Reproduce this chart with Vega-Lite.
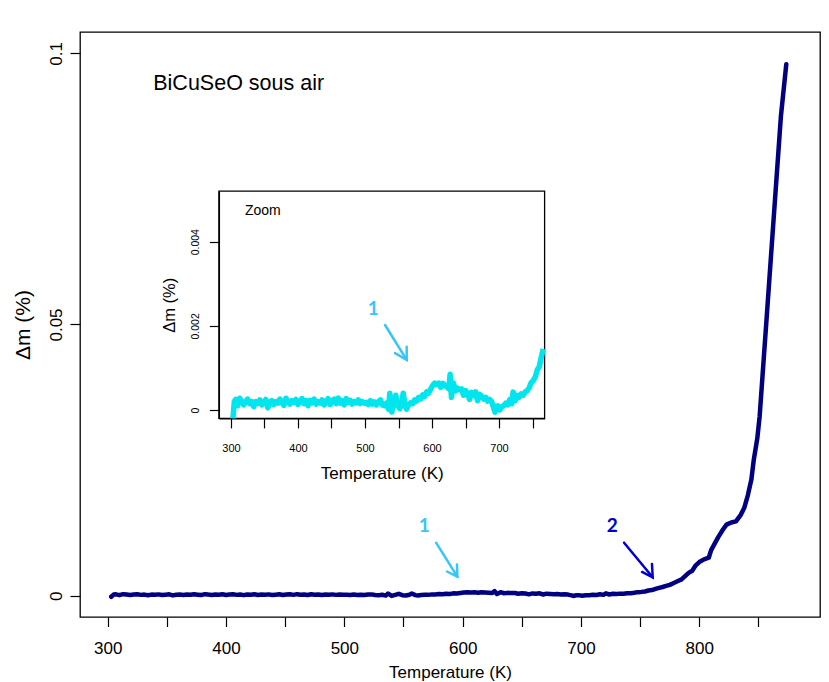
{
  "$schema": "https://vega.github.io/schema/vega-lite/v6.json",
  "width": 740,
  "height": 585,
  "autosize": {"type": "none"},
  "padding": {"left": 80, "top": 32, "right": 9, "bottom": 65},
  "background": "white",
  "config": {
    "view": {"stroke": "black", "strokeWidth": 1.3},
    "axis": {
      "grid": false,
      "domain": false,
      "labelFont": "Liberation Sans",
      "titleFont": "Liberation Sans",
      "labelColor": "black",
      "titleColor": "black",
      "tickColor": "black",
      "tickWidth": 1.2,
      "titleFontWeight": "normal"
    }
  },
  "datasets": {
    "tga": [
      {"T":303,"dm":-0.0002},{"T":305,"dm":0.0002},{"T":307,"dm":0.00025},{"T":310,"dm":0.0001},{"T":313,"dm":0.00028},{"T":316,"dm":0.0002},{"T":319,"dm":0.00012},{"T":322,"dm":0.0002},{"T":325,"dm":0.00026},{"T":328,"dm":0.00015},{"T":331,"dm":0.0002},{"T":334,"dm":0.00008},{"T":337,"dm":0.0002},{"T":340,"dm":0.00016},{"T":343,"dm":0.00024},{"T":346,"dm":0.00012},{"T":349,"dm":0.00018},{"T":352,"dm":0.00025},{"T":355,"dm":0.00005},{"T":358,"dm":0.00018},{"T":361,"dm":0.00022},{"T":364,"dm":0.00013},{"T":367,"dm":0.0002},{"T":370,"dm":0.00016},{"T":373,"dm":0.00026},{"T":376,"dm":0.00018},{"T":379,"dm":0.00011},{"T":382,"dm":0.00028},{"T":385,"dm":0.0002},{"T":388,"dm":0.00014},{"T":391,"dm":0.00022},{"T":394,"dm":0.00018},{"T":397,"dm":0.00025},{"T":400,"dm":0.00013},{"T":403,"dm":0.0002},{"T":406,"dm":0.00027},{"T":409,"dm":0.00015},{"T":412,"dm":0.00022},{"T":415,"dm":0.0001},{"T":418,"dm":0.00023},{"T":421,"dm":0.00017},{"T":424,"dm":0.00026},{"T":427,"dm":0.00014},{"T":430,"dm":0.0002},{"T":433,"dm":0.00016},{"T":436,"dm":0.00024},{"T":439,"dm":0.00012},{"T":442,"dm":0.00019},{"T":445,"dm":0.00027},{"T":448,"dm":0.00013},{"T":451,"dm":0.00021},{"T":454,"dm":0.00026},{"T":457,"dm":0.00015},{"T":460,"dm":0.00028},{"T":463,"dm":0.00016},{"T":466,"dm":0.00022},{"T":469,"dm":0.00012},{"T":472,"dm":0.00027},{"T":475,"dm":0.00018},{"T":478,"dm":0.00023},{"T":481,"dm":0.00014},{"T":484,"dm":0.0002},{"T":487,"dm":0.00017},{"T":490,"dm":0.00024},{"T":493,"dm":0.00015},{"T":496,"dm":0.0002},{"T":499,"dm":0.00016},{"T":502,"dm":0.00018},{"T":505,"dm":0.00013},{"T":508,"dm":0.00022},{"T":511,"dm":0.00014},{"T":514,"dm":0.00019},{"T":517,"dm":0.00012},{"T":520,"dm":0.0002},{"T":523,"dm":0.00024},{"T":526,"dm":0.00012},{"T":529,"dm":0.0001},{"T":532,"dm":0.00016},{"T":535,"dm":0.00002},{"T":537,"dm":0.0004},{"T":540,"dm":-0.00005},{"T":543,"dm":0.00015},{"T":546,"dm":0.00035},{"T":549,"dm":0.0001},{"T":552,"dm":0.00003},{"T":555,"dm":0.00018},{"T":557,"dm":0.0004},{"T":560,"dm":0.0001},{"T":562,"dm":0.00002},{"T":565,"dm":0.00012},{"T":568,"dm":0.00017},{"T":571,"dm":0.00015},{"T":574,"dm":0.00024},{"T":577,"dm":0.00021},{"T":580,"dm":0.0003},{"T":583,"dm":0.00026},{"T":586,"dm":0.00036},{"T":589,"dm":0.00032},{"T":592,"dm":0.00043},{"T":595,"dm":0.0004},{"T":598,"dm":0.0005},{"T":601,"dm":0.00058},{"T":604,"dm":0.00064},{"T":607,"dm":0.0006},{"T":610,"dm":0.00064},{"T":613,"dm":0.00054},{"T":616,"dm":0.00063},{"T":619,"dm":0.00059},{"T":622,"dm":0.00055},{"T":625,"dm":0.0005},{"T":627,"dm":0.00085},{"T":629,"dm":0.0003},{"T":632,"dm":0.00064},{"T":635,"dm":0.00045},{"T":638,"dm":0.00052},{"T":641,"dm":0.00048},{"T":644,"dm":0.0005},{"T":647,"dm":0.00035},{"T":650,"dm":0.00046},{"T":653,"dm":0.0004},{"T":656,"dm":0.00025},{"T":659,"dm":0.00042},{"T":662,"dm":0.00035},{"T":665,"dm":0.00043},{"T":668,"dm":0.00022},{"T":671,"dm":0.00037},{"T":674,"dm":0.00033},{"T":677,"dm":0.00026},{"T":680,"dm":0.0003},{"T":683,"dm":0.00021},{"T":686,"dm":0.00025},{"T":689,"dm":0.0002},{"T":692,"dm":0.00005},{"T":694,"dm":-0.00005},{"T":696,"dm":0.00008},{"T":698,"dm":0.0001},{"T":701,"dm":0},{"T":704,"dm":0.00008},{"T":707,"dm":0.0001},{"T":710,"dm":0.00016},{"T":713,"dm":0.00012},{"T":716,"dm":0.00025},{"T":719,"dm":0.00015},{"T":721,"dm":0.00043},{"T":724,"dm":0.00022},{"T":727,"dm":0.00035},{"T":730,"dm":0.0003},{"T":733,"dm":0.00038},{"T":736,"dm":0.00035},{"T":739,"dm":0.00043},{"T":742,"dm":0.00046},{"T":745,"dm":0.00053},{"T":748,"dm":0.00065},{"T":751,"dm":0.0007},{"T":754,"dm":0.00078},{"T":757,"dm":0.00095},{"T":760,"dm":0.00103},{"T":763,"dm":0.00125},{"T":766,"dm":0.00145},{"T":769,"dm":0.0016},{"T":772,"dm":0.0018},{"T":775,"dm":0.002},{"T":778,"dm":0.0023},{"T":782,"dm":0.0027},{"T":785,"dm":0.003},{"T":788,"dm":0.0036},{"T":791,"dm":0.0042},{"T":794,"dm":0.0046},{"T":797,"dm":0.0056},{"T":800,"dm":0.0062},{"T":804,"dm":0.0067},{"T":808,"dm":0.007},{"T":810,"dm":0.0084},{"T":813,"dm":0.0096},{"T":816,"dm":0.0108},{"T":820,"dm":0.0122},{"T":823,"dm":0.0131},{"T":827,"dm":0.0135},{"T":831,"dm":0.0137},{"T":835,"dm":0.0149},{"T":838,"dm":0.0162},{"T":841,"dm":0.0185},{"T":844,"dm":0.0214},{"T":846,"dm":0.025},{"T":849,"dm":0.029},{"T":851,"dm":0.0331},{"T":854,"dm":0.0423},{"T":857,"dm":0.0515},{"T":861,"dm":0.0639},{"T":865,"dm":0.0762},{"T":869,"dm":0.0885},{"T":873.5,"dm":0.098}
    ],
    "arrows": [
      {"arrow":"m1","seg":"m1a","ord":1,"T":577.5,"dm":0.00977},
      {"arrow":"m1","seg":"m1a","ord":2,"T":595.5,"dm":0.0035},
      {"arrow":"m1","seg":"m1b","ord":1,"T":586.8,"dm":0.00446},
      {"arrow":"m1","seg":"m1b","ord":2,"T":595.5,"dm":0.0035},
      {"arrow":"m1","seg":"m1b","ord":3,"T":595.2,"dm":0.00575},
      {"arrow":"m2","seg":"m2a","ord":1,"T":736.4,"dm":0.00977},
      {"arrow":"m2","seg":"m2a","ord":2,"T":760.6,"dm":0.00339},
      {"arrow":"m2","seg":"m2b","ord":1,"T":751.6,"dm":0.00437},
      {"arrow":"m2","seg":"m2b","ord":2,"T":760.6,"dm":0.00339},
      {"arrow":"m2","seg":"m2b","ord":3,"T":760.0,"dm":0.00584},
      {"arrow":"i1","seg":"i1a","ord":1,"T":529.9,"dm":0.00202},
      {"arrow":"i1","seg":"i1a","ord":2,"T":562.2,"dm":0.00119},
      {"arrow":"i1","seg":"i1b","ord":1,"T":544.8,"dm":0.00135},
      {"arrow":"i1","seg":"i1b","ord":2,"T":562.2,"dm":0.00119},
      {"arrow":"i1","seg":"i1b","ord":3,"T":562.2,"dm":0.0015}
    ],
    "texts": [
      {"key":"title","label":"BiCuSeO sous air","T":338.5,"dm":0.09323},
      {"key":"m1","label":"1","T":567.6,"dm":0.0118},
      {"key":"m2","label":"2","T":726.5,"dm":0.0118},
      {"key":"zoom","label":"Zoom","T":320.9,"dm":0.004635},
      {"key":"i1","label":"1","T":512.4,"dm":0.002258}
    ]
  },
  "layer": [
    {
      "encoding": {
        "x": {
          "field": "T", "type": "quantitative",
          "scale": {"domain": [276.6, 902], "nice": false, "zero": false},
          "axis": {
            "orient": "bottom", "title": "Temperature (K)",
            "values": [300,350,400,450,500,550,600,650,700,750,800,850],
            "labelExpr": "datum.value % 100 == 0 ? datum.label : ''",
            "labelFontSize": 17, "titleFontSize": 17,
            "tickSize": 9.5, "labelPadding": 14, "titlePadding": 8,
            "labelFlush": false, "labelOverlap": false
          }
        },
        "y": {
          "field": "dm", "type": "quantitative",
          "scale": {"domain": [-0.00393, 0.10393], "nice": false, "zero": false},
          "axis": {
            "orient": "left", "title": "Δm (%)",
            "values": [0, 0.05, 0.1], "format": "~g",
            "labelAngle": -90, "labelAlign": "center", "labelBaseline": "alphabetic",
            "labelFontSize": 17, "titleFontSize": 21,
            "tickSize": 10, "labelPadding": 9, "titlePadding": 14,
            "labelFlush": false, "labelOverlap": false
          }
        }
      },
      "layer": [
        {
          "data": {"name": "tga"},
          "mark": {"type": "line", "color": "#000080", "strokeWidth": 4.5, "strokeJoin": "round", "strokeCap": "round"}
        },
        {
          "data": {"name": "arrows"},
          "transform": [{"filter": "datum.arrow == 'm1'"}],
          "mark": {"type": "line", "color": "#38C5F7", "strokeWidth": 2.5, "strokeCap": "round", "strokeJoin": "miter"},
          "encoding": {"detail": {"field": "seg"}, "order": {"field": "ord"}}
        },
        {
          "data": {"name": "arrows"},
          "transform": [{"filter": "datum.arrow == 'm2'"}],
          "mark": {"type": "line", "color": "#0000CD", "strokeWidth": 2.5, "strokeCap": "round", "strokeJoin": "miter"},
          "encoding": {"detail": {"field": "seg"}, "order": {"field": "ord"}}
        },
        {
          "data": {"name": "texts"},
          "transform": [{"filter": "datum.key == 'title'"}],
          "mark": {"type": "text", "font": "Liberation Sans", "fontSize": 21.5, "align": "left", "baseline": "alphabetic", "color": "black"},
          "encoding": {"text": {"field": "label"}}
        },
        {
          "data": {"name": "texts"},
          "transform": [{"filter": "datum.key == 'm1'"}],
          "mark": {"type": "text", "font": "Lato", "fontWeight": "bold", "fontSize": 19, "align": "center", "baseline": "alphabetic", "color": "#38C5F7"},
          "encoding": {"text": {"field": "label"}}
        },
        {
          "data": {"name": "texts"},
          "transform": [{"filter": "datum.key == 'm2'"}],
          "mark": {"type": "text", "font": "Lato", "fontWeight": "bold", "fontSize": 19, "align": "center", "baseline": "alphabetic", "color": "#0000CD"},
          "encoding": {"text": {"field": "label"}}
        }
      ]
    },
    {
      "encoding": {
        "x": {
          "field": "T", "type": "quantitative",
          "scale": {"domain": [282, 768], "range": [138.9, 464.6], "nice": false, "zero": false},
          "axis": {
            "orient": "bottom", "offset": -198.6, "title": "Temperature (K)",
            "values": [300,350,400,450,500,550,600,650,700,750],
            "labelExpr": "datum.value % 100 == 0 ? datum.label : ''",
            "labelFontSize": 11, "titleFontSize": 17,
            "tickSize": 9.5, "labelPadding": 15, "titlePadding": 12,
            "domain": true, "domainColor": "black", "domainWidth": 1.3,
            "labelFlush": false, "labelOverlap": false
          }
        },
        "y": {
          "field": "dm", "type": "quantitative",
          "scale": {"domain": [-0.0002, 0.0052], "range": [386.4, 159.2], "nice": false, "zero": false},
          "axis": {
            "orient": "left", "offset": -138.9, "title": "Δm (%)",
            "values": [0, 0.002, 0.004], "format": "~g",
            "labelAngle": -90, "labelAlign": "center", "labelBaseline": "alphabetic",
            "labelFontSize": 10.5, "titleFontSize": 16.5,
            "tickSize": 9.5, "labelPadding": 11, "titlePadding": 13,
            "domain": true, "domainColor": "black", "domainWidth": 1.3,
            "labelFlush": false, "labelOverlap": false
          }
        }
      },
      "layer": [
        {
          "data": {"name": "texts"},
          "transform": [{"filter": "datum.key == 'zoom'"}],
          "mark": {"type": "rect", "fill": "white", "fillOpacity": 0, "stroke": "black", "strokeWidth": 1.3},
          "encoding": {
            "x": {"datum": 282, "type": "quantitative"},
            "x2": {"datum": 768},
            "y": {"datum": -0.0002, "type": "quantitative"},
            "y2": {"datum": 0.0052}
          }
        },
        {
          "data": {"name": "tga"},
          "transform": [{"filter": "datum.T <= 767"}],
          "mark": {"type": "line", "color": "#00E5EE", "strokeWidth": 5.5, "strokeJoin": "round", "strokeCap": "butt"}
        },
        {
          "data": {"name": "arrows"},
          "transform": [{"filter": "datum.arrow == 'i1'"}],
          "mark": {"type": "line", "color": "#38C5F7", "strokeWidth": 2.5, "strokeCap": "round", "strokeJoin": "miter"},
          "encoding": {"detail": {"field": "seg"}, "order": {"field": "ord"}}
        },
        {
          "data": {"name": "texts"},
          "transform": [{"filter": "datum.key == 'zoom'"}],
          "mark": {"type": "text", "font": "Liberation Sans", "fontSize": 14, "align": "left", "baseline": "alphabetic", "color": "black"},
          "encoding": {"text": {"field": "label"}}
        },
        {
          "data": {"name": "texts"},
          "transform": [{"filter": "datum.key == 'i1'"}],
          "mark": {"type": "text", "font": "Lato", "fontWeight": "bold", "fontSize": 19, "align": "center", "baseline": "alphabetic", "color": "#38C5F7"},
          "encoding": {"text": {"field": "label"}}
        }
      ]
    }
  ],
  "resolve": {
    "scale": {"x": "independent", "y": "independent"},
    "axis": {"x": "independent", "y": "independent"}
  }
}
